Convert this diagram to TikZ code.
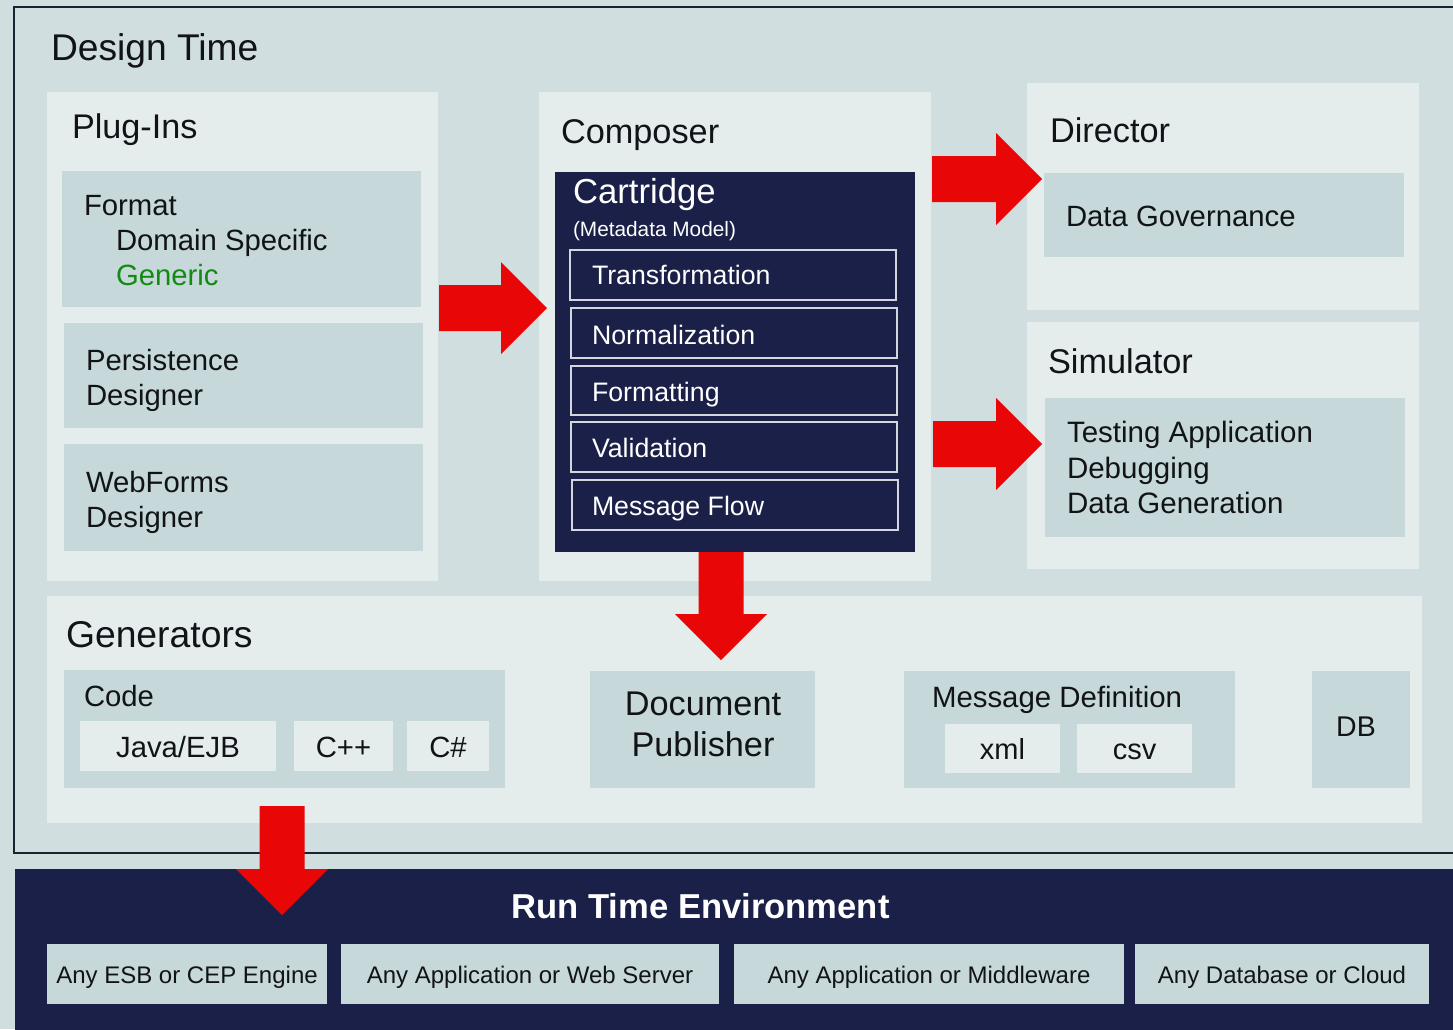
\documentclass[tikz,border=0pt]{standalone}
\usepackage{fontspec}
\setmainfont{Liberation Sans}
\usetikzlibrary{calc}

\definecolor{bgout}{HTML}{D0DEDF}
\definecolor{panelfill}{HTML}{E5ECEC}
\definecolor{innerfill}{HTML}{C6D8D9}
\definecolor{navy}{HTML}{1A2048}
\definecolor{stepline}{HTML}{D4D6DE}
\definecolor{framecol}{HTML}{1C2233}
\definecolor{flowred}{HTML}{E80606}
\definecolor{gengreen}{HTML}{138A13}
\definecolor{ink}{HTML}{111318}

\tikzset{
  area/.style={rectangle, inner sep=0pt, outer sep=0pt, anchor=north west},
  panel/.style={area, fill=panelfill},
  inbox/.style={area, fill=innerfill},
  navybox/.style={area, fill=navy},
  framebox/.style={area, fill=bgout, draw=framecol, line width=2.4pt},
  stepbox/.style={area, fill=navy, draw=stepline, line width=1.3pt},
  lbl/.style={inner sep=0pt, outer sep=0pt, anchor=base west, text=ink},
  clbl/.style={lbl, anchor=base},
  fs/.style={font=\fontsize{#1}{#1}\selectfont},
  fsb/.style={font=\fontsize{#1}{#1}\selectfont\bfseries},
  flow/.style={fill=flowred, draw=none},
}

% rectangle node from its top-left and bottom-right corners
\newcommand\areabox[6]{\node[#2, minimum width={#5pt-#3pt}, minimum height={#6pt-#4pt}] (#1) at (#3,#4) {};}
% block arrows between two named points
\newcommand\flowright[2]{\fill[flow] let \p1=(#1), \p2=(#2) in
  (\x1,\y1+23pt) -- (\x2-46pt,\y1+23pt) -- (\x2-46pt,\y1+46pt) -- (\x2,\y2)
  -- (\x2-46pt,\y1-46pt) -- (\x2-46pt,\y1-23pt) -- (\x1,\y1-23pt) -- cycle;}
\newcommand\flowdown[2]{\fill[flow] let \p1=(#1), \p2=(#2) in
  (\x1-22.5pt,\y1) -- (\x1-22.5pt,\y2+46pt) -- (\x1-46pt,\y2+46pt) -- (\x2,\y2)
  -- (\x1+46pt,\y2+46pt) -- (\x1+22.5pt,\y2+46pt) -- (\x1+22.5pt,\y1) -- cycle;}

\begin{document}
\begin{tikzpicture}[x=1pt,y=-1pt]
\useasboundingbox (0,0) rectangle (1453,1029);
\fill[bgout] (0,0) rectangle (1453,1029);

% run time band and design time frame
\areabox{runtime}{navybox}{15}{869}{1470}{1040}
\areabox{designtime}{framebox}{14}{7}{1470}{853}

% design time panels
\areabox{plugins}{panel}{47}{92}{438}{581}
\areabox{composer}{panel}{539}{92}{931}{581}
\areabox{director}{panel}{1027}{83}{1419}{310}
\areabox{simulator}{panel}{1027}{322}{1419}{569}
\areabox{generators}{panel}{47}{596}{1422}{823}

% plug-ins
\areabox{format}{inbox}{62}{171}{421}{307}
\areabox{persist}{inbox}{64}{323}{423}{428}
\areabox{webforms}{inbox}{64}{444}{423}{551}

% composer / cartridge
\areabox{cartridge}{navybox}{555}{172}{915}{552}
\areabox{st-trans}{stepbox}{570}{250}{896}{300}
\areabox{st-norm}{stepbox}{571}{308}{897}{358}
\areabox{st-fmt}{stepbox}{571}{366}{897}{415}
\areabox{st-val}{stepbox}{571}{422}{897}{472}
\areabox{st-flow}{stepbox}{572}{480}{898}{530}

% director / simulator
\areabox{governance}{inbox}{1044}{173}{1404}{257}
\areabox{simtasks}{inbox}{1045}{398}{1405}{537}

% generators
\areabox{code}{inbox}{64}{670}{505}{788}
\areabox{java}{panel}{80}{721}{276}{771}
\areabox{cpp}{panel}{294}{721}{393}{771}
\areabox{csharp}{panel}{407}{721}{489}{771}
\areabox{docpub}{inbox}{590}{671}{815}{788}
\areabox{msgdef}{inbox}{904}{671}{1235}{788}
\areabox{xml}{panel}{945}{724}{1060}{773}
\areabox{csv}{panel}{1077}{724}{1192}{773}
\areabox{db}{inbox}{1312}{671}{1410}{788}

% run time targets
\areabox{rt-esb}{inbox}{47}{944}{327}{1004}
\areabox{rt-web}{inbox}{341}{944}{719}{1004}
\areabox{rt-mid}{inbox}{734}{944}{1124}{1004}
\areabox{rt-db}{inbox}{1135}{944}{1429}{1004}

% flow arrows
\coordinate (plug-out) at (439,308);
\coordinate (cart-in) at (547,308);
\coordinate (dir-out) at (932,179);
\coordinate (dir-in) at (1042,179);
\coordinate (sim-out) at (933,444);
\coordinate (sim-in) at (1042,444);
\coordinate (cart-out) at (721,552);
\coordinate (gen-in) at (721,660);
\coordinate (gen-out) at (282,806);
\coordinate (rt-in) at (282,915);
\flowright{plug-out}{cart-in}
\flowright{dir-out}{dir-in}
\flowright{sim-out}{sim-in}
\flowdown{cart-out}{gen-in}
\flowdown{gen-out}{rt-in}

% labels
\node[lbl, fs=37.2] (t-design) at (51,60) {Design Time};
\node[lbl, fs=34.2] (t-plugins) at (72,138) {Plug-Ins};
\node[lbl, fs=29.3] (t-format) at (84,215) {Format};
\node[lbl, fs=29.3] (t-domain) at (116,250) {Domain Specific};
\node[lbl, fs=29.3, text=gengreen] (t-generic) at (116,285) {Generic};
\node[lbl, fs=29.3] (t-pers1) at (86,370) {Persistence};
\node[lbl, fs=29.3] (t-pers2) at (86,405) {Designer};
\node[lbl, fs=29.3] (t-web1) at (86,492) {WebForms};
\node[lbl, fs=29.3] (t-web2) at (86,527) {Designer};

\node[lbl, fs=34.3] (t-composer) at (561,143) {Composer};
\node[lbl, fs=34.7, text=white] (t-cart) at (573,203) {Cartridge};
\node[lbl, fs=20.8, text=white] (t-meta) at (573,236) {(Metadata Model)};
\node[lbl, fs=26.7, text=white] (t-trans) at (592,284) {Transformation};
\node[lbl, fs=26.7, text=white] (t-norm) at (592,344) {Normalization};
\node[lbl, fs=26.7, text=white] (t-fmt) at (592,401) {Formatting};
\node[lbl, fs=26.7, text=white] (t-val) at (592,457) {Validation};
\node[lbl, fs=26.7, text=white] (t-flow) at (592,515) {Message Flow};

\node[lbl, fs=34.3] (t-director) at (1050,142) {Director};
\node[lbl, fs=29.3] (t-gov) at (1066,226) {Data Governance};
\node[lbl, fs=34.3] (t-sim) at (1048,373) {Simulator};
\node[lbl, fs=29.5] (t-test) at (1067,442) {Testing Application};
\node[lbl, fs=29.5] (t-debug) at (1067,478) {Debugging};
\node[lbl, fs=29.5] (t-datagen) at (1067,513) {Data Generation};

\node[lbl, fs=37.3] (t-gen) at (66,647) {Generators};
\node[lbl, fs=29.3] (t-code) at (84,706) {Code};
\node[clbl, fs=29.3] (t-java) at (178,757) {Java/EJB};
\node[clbl, fs=29.3] (t-cpp) at (343.5,757) {C++};
\node[clbl, fs=29.3] (t-cs) at (448,757) {C\#};
\node[clbl, fs=34.3] (t-doc1) at (703,715) {Document};
\node[clbl, fs=34.3] (t-doc2) at (703,756) {Publisher};
\node[lbl, fs=29.4] (t-msg) at (932,707) {Message Definition};
\node[clbl, fs=29] (t-xml) at (1002.5,759) {xml};
\node[clbl, fs=29] (t-csv) at (1134.5,759) {csv};
\node[clbl, fs=28.5] (t-db) at (1356,736) {DB};

\node[clbl, fsb=34.6, text=white] (t-rt) at (700.5,918) {Run Time Environment};
\node[clbl, fs=24] (t-esb) at (187,983) {Any ESB or CEP Engine};
\node[clbl, fs=24] (t-web) at (530,983) {Any Application or Web Server};
\node[clbl, fs=24] (t-mid) at (929,983) {Any Application or Middleware};
\node[clbl, fs=24] (t-dbc) at (1282,983) {Any Database or Cloud};
\end{tikzpicture}
\end{document}
